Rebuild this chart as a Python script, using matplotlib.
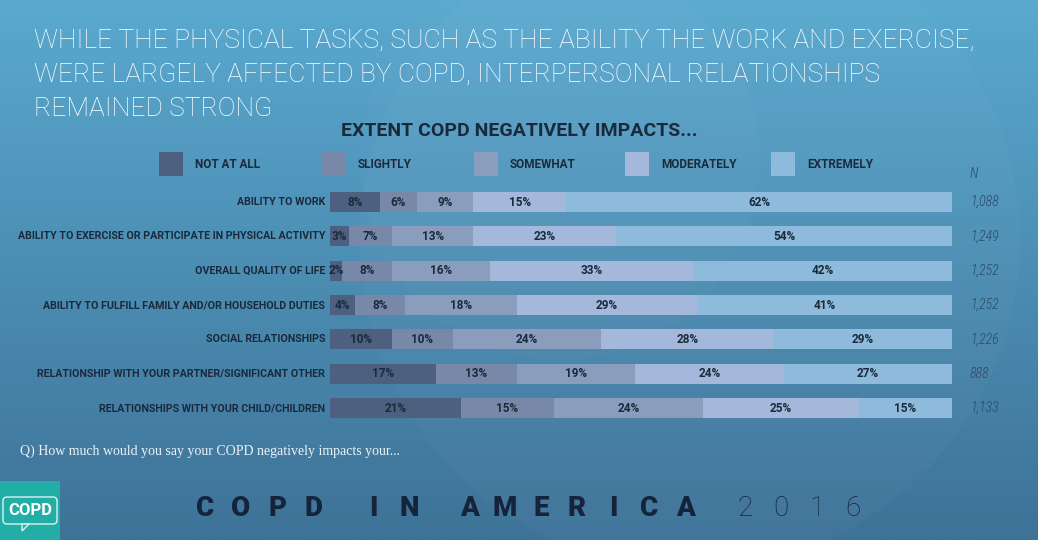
import numpy as np
import matplotlib
matplotlib.use('Agg')
import matplotlib.pyplot as plt
from matplotlib.colors import to_rgb
from matplotlib.patches import Rectangle, Circle, FancyBboxPatch, Polygon

# data
categories = [
    'ABILITY TO WORK',
    'ABILITY TO EXERCISE OR PARTICIPATE IN PHYSICAL ACTIVITY',
    'OVERALL QUALITY OF LIFE',
    'ABILITY TO FULFILL FAMILY AND/OR HOUSEHOLD DUTIES',
    'SOCIAL RELATIONSHIPS',
    'RELATIONSHIP WITH YOUR PARTNER/SIGNIFICANT OTHER',
    'RELATIONSHIPS WITH YOUR CHILD/CHILDREN',
]
levels = ['NOT AT ALL', 'SLIGHTLY', 'SOMEWHAT', 'MODERATELY', 'EXTREMELY']
not_at_all = [8, 3, 2, 4, 10, 17, 21]
slightly = [6, 7, 8, 8, 10, 13, 15]
somewhat = [9, 13, 16, 18, 24, 19, 24]
moderately = [15, 23, 33, 29, 28, 24, 25]
extremely = [62, 54, 42, 41, 29, 27, 15]
n_sizes = ['1,088', '1,249', '1,252', '1,252', '1,226', '888', '1,133']

title_lines = [
    'WHILE THE PHYSICAL TASKS, SUCH AS THE ABILITY THE WORK AND EXERCISE,',
    'WERE LARGELY AFFECTED BY COPD, INTERPERSONAL RELATIONSHIPS',
    'REMAINED STRONG',
]
colors = ['#4e6080', '#7788a8', '#8a9dbd', '#a3b8da', '#8ebbdc']
dark = '#1a2a3b'
cond = ['Roboto Condensed', 'Liberation Sans Narrow', 'DejaVu Sans']
wide = ['Roboto', 'DejaVu Sans']

W, H = 1038, 540
fig = plt.figure(figsize=(W / 100, H / 100), dpi=100)

# background in pixel coordinates
bg = fig.add_axes([0, 0, 1, 1])
bg.set_xlim(0, W)
bg.set_ylim(H, 0)
bg.axis('off')
t = np.linspace(0, 1, 256)[:, None, None]
top, bot = np.array(to_rgb('#5aa9cf')), np.array(to_rgb('#3e7297'))
grad = top * (1 - t) + bot * t
bg.imshow(grad, extent=[0, W, H, 0], aspect='auto', zorder=0)
bg.add_patch(Circle((690, 240), 330, color='white', alpha=0.025, lw=0, zorder=1))
bg.add_patch(Circle((560, 160), 200, color='white', alpha=0.02, lw=0, zorder=1))

for i, line in enumerate(title_lines):
    bg.text(34, 41 + i * 34, line, color='white', fontsize=19, family=wide,
            fontweight='light', va='center', ha='left')

bg.text(519, 131, 'EXTENT COPD NEGATIVELY IMPACTS...', color=dark, fontsize=14,
        family=wide, fontweight='bold', ha='center', va='center')

legend_x = [159, 322, 474, 625, 771]
for lx, lab, c in zip(legend_x, levels, colors):
    bg.add_patch(Rectangle((lx, 152), 24, 24, color=c, lw=0, zorder=2))
    bg.text(lx + 36, 164, lab, color=dark, fontsize=8.5, family=wide,
            fontweight='bold', va='center', ha='left')

bg.text(970, 174, 'N', color='#2b4a66', fontsize=10, family=cond,
        style='italic', fontweight='light', va='center', ha='left')

bg.text(20, 451, 'Q) How much would you say your COPD negatively impacts your...',
        color='#eef3f7', fontsize=10, family=['Liberation Serif', 'DejaVu Serif'],
        va='center', ha='left')

# logo box
bg.add_patch(Rectangle((0, 481), 60, 59, color='#22ada6', lw=0, zorder=2))
bg.add_patch(FancyBboxPatch((3, 497), 54, 27, boxstyle='round,pad=0,rounding_size=4',
                            fill=False, ec='#d9f4f0', lw=1, zorder=3))
bg.add_patch(Polygon([(22, 524), (29, 524), (22, 531)], closed=True, fc='#22ada6',
                     ec='#d9f4f0', lw=1, zorder=3))
bg.text(30, 510.5, 'COPD', color='white', fontsize=12, family=wide, fontweight='bold',
        ha='center', va='center', zorder=4)

# footer brand, letter spaced
x = 205
for ch in 'COPD IN AMERICA 2016':
    if ch == ' ':
        x += 24
        continue
    light = ch.isdigit()
    bg.text(x, 508, ch, color='#15243a', fontsize=20, family=wide,
            fontweight='light' if light else 'black', ha='center', va='center')
    x += 36

# stacked bars
ax = fig.add_axes([330 / W, 1 - 425.2 / H, 622 / W, 240.3 / H])
ax.patch.set_alpha(0)
ax.set_xlim(0, 100)
ax.set_ylim(6.5, -0.5)
ax.axis('off')

series = [not_at_all, slightly, somewhat, moderately, extremely]
totals = np.sum(series, axis=0)
y = np.arange(len(categories))
left = np.zeros(len(categories))
for vals, c in zip(series, colors):
    vals = np.array(vals)
    w = vals / totals * 100
    ax.barh(y, w, left=left, height=0.58, color=c, lw=0)
    for yi, li, wi, v in zip(y, left, w, vals):
        ax.text(li + wi / 2, yi, f'{v}%', color=dark, fontsize=8.5, family=wide,
                fontweight='bold', ha='center', va='center')
    left += w

for yi, cat, n in zip(y, categories, n_sizes):
    ax.text(-0.8, yi, cat, color=dark, fontsize=7.7, family=wide, fontweight='bold',
            ha='right', va='center')
    ax.text(102.9, yi, n, color='#2b4a66', fontsize=10, family=cond,
            style='italic', fontweight='light', ha='left', va='center')

fig.savefig('out.png', dpi=100)
